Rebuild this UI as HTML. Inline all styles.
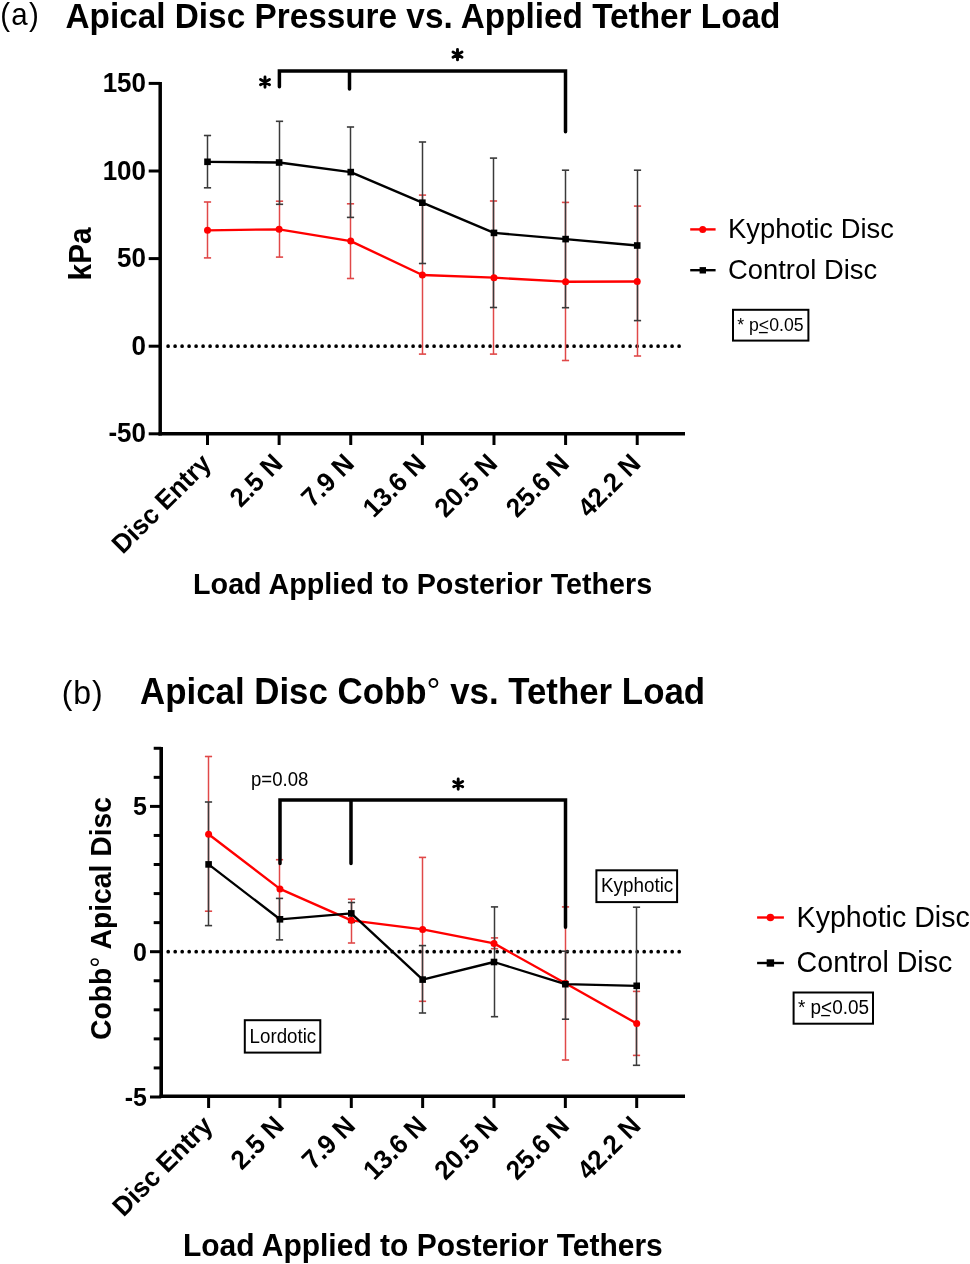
<!DOCTYPE html>
<html><head><meta charset="utf-8"><title>Apical Disc Pressure and Cobb Angle vs Tether Load</title>
<style>
html,body{margin:0;padding:0;background:#fff;}
body{width:970px;height:1264px;overflow:hidden;}
svg{display:block;will-change:transform;}
text{font-family:"Liberation Sans",sans-serif;fill:#000;}
.b{font-weight:bold;}
</style></head><body>
<svg width="970" height="1264" viewBox="0 0 970 1264">
<rect x="0" y="0" width="970" height="1264" fill="#fff"/>

<line x1="160.2" y1="81.9" x2="160.2" y2="435.55" stroke="#000" stroke-width="3.5"/>
<line x1="158.45" y1="433.8" x2="685" y2="433.8" stroke="#000" stroke-width="3.5"/>
<line x1="148.7" y1="83.4" x2="160.2" y2="83.4" stroke="#000" stroke-width="3"/>
<text class="b" font-size="26" text-anchor="end" transform="translate(146,92) scale(1,1.04)">150</text>
<line x1="148.7" y1="171" x2="160.2" y2="171" stroke="#000" stroke-width="3"/>
<text class="b" font-size="26" text-anchor="end" transform="translate(146,179.6) scale(1,1.04)">100</text>
<line x1="148.7" y1="258.6" x2="160.2" y2="258.6" stroke="#000" stroke-width="3"/>
<text class="b" font-size="26" text-anchor="end" transform="translate(146,267.2) scale(1,1.04)">50</text>
<line x1="148.7" y1="346.2" x2="160.2" y2="346.2" stroke="#000" stroke-width="3"/>
<text class="b" font-size="26" text-anchor="end" transform="translate(146,354.8) scale(1,1.04)">0</text>
<line x1="148.7" y1="433.8" x2="160.2" y2="433.8" stroke="#000" stroke-width="3"/>
<text class="b" font-size="26" text-anchor="end" transform="translate(146,442.4) scale(1,1.04)">-50</text>
<line x1="207.5" y1="433.8" x2="207.5" y2="445" stroke="#000" stroke-width="3"/>
<text class="b" font-size="25.7" text-anchor="end" transform="translate(212.5,465.2) rotate(-45) scale(1,1.04)">Disc Entry</text>
<line x1="279.12" y1="433.8" x2="279.12" y2="445" stroke="#000" stroke-width="3"/>
<text class="b" font-size="25.7" text-anchor="end" transform="translate(284.12,465.2) rotate(-45) scale(1,1.04)">2.5 N</text>
<line x1="350.74" y1="433.8" x2="350.74" y2="445" stroke="#000" stroke-width="3"/>
<text class="b" font-size="25.7" text-anchor="end" transform="translate(355.74,465.2) rotate(-45) scale(1,1.04)">7.9 N</text>
<line x1="422.36" y1="433.8" x2="422.36" y2="445" stroke="#000" stroke-width="3"/>
<text class="b" font-size="25.7" text-anchor="end" transform="translate(427.36,465.2) rotate(-45) scale(1,1.04)">13.6 N</text>
<line x1="493.98" y1="433.8" x2="493.98" y2="445" stroke="#000" stroke-width="3"/>
<text class="b" font-size="25.7" text-anchor="end" transform="translate(498.98,465.2) rotate(-45) scale(1,1.04)">20.5 N</text>
<line x1="565.6" y1="433.8" x2="565.6" y2="445" stroke="#000" stroke-width="3"/>
<text class="b" font-size="25.7" text-anchor="end" transform="translate(570.6,465.2) rotate(-45) scale(1,1.04)">25.6 N</text>
<line x1="637.22" y1="433.8" x2="637.22" y2="445" stroke="#000" stroke-width="3"/>
<text class="b" font-size="25.7" text-anchor="end" transform="translate(642.22,465.2) rotate(-45) scale(1,1.04)">42.2 N</text>
<line x1="168.1" y1="346.2" x2="681" y2="346.2" stroke="#000" stroke-width="3.7" stroke-linecap="round" stroke-dasharray="0 7"/>
<line x1="207.5" y1="202" x2="207.5" y2="257.9" stroke="#e04848" stroke-width="1.5"/>
<line x1="203.9" y1="202" x2="211.1" y2="202" stroke="#e04848" stroke-width="1.6"/>
<line x1="203.9" y1="257.9" x2="211.1" y2="257.9" stroke="#e04848" stroke-width="1.6"/>
<line x1="279.5" y1="201.2" x2="279.5" y2="257.1" stroke="#e04848" stroke-width="1.5"/>
<line x1="275.9" y1="201.2" x2="283.1" y2="201.2" stroke="#e04848" stroke-width="1.6"/>
<line x1="275.9" y1="257.1" x2="283.1" y2="257.1" stroke="#e04848" stroke-width="1.6"/>
<line x1="350.5" y1="203.8" x2="350.5" y2="278.5" stroke="#e04848" stroke-width="1.5"/>
<line x1="346.9" y1="203.8" x2="354.1" y2="203.8" stroke="#e04848" stroke-width="1.6"/>
<line x1="346.9" y1="278.5" x2="354.1" y2="278.5" stroke="#e04848" stroke-width="1.6"/>
<line x1="422.5" y1="195.1" x2="422.5" y2="354.1" stroke="#e04848" stroke-width="1.5"/>
<line x1="418.9" y1="195.1" x2="426.1" y2="195.1" stroke="#e04848" stroke-width="1.6"/>
<line x1="418.9" y1="354.1" x2="426.1" y2="354.1" stroke="#e04848" stroke-width="1.6"/>
<line x1="493.5" y1="201" x2="493.5" y2="354.1" stroke="#e04848" stroke-width="1.5"/>
<line x1="489.9" y1="201" x2="497.1" y2="201" stroke="#e04848" stroke-width="1.6"/>
<line x1="489.9" y1="354.1" x2="497.1" y2="354.1" stroke="#e04848" stroke-width="1.6"/>
<line x1="565.5" y1="202.4" x2="565.5" y2="360.5" stroke="#e04848" stroke-width="1.5"/>
<line x1="561.9" y1="202.4" x2="569.1" y2="202.4" stroke="#e04848" stroke-width="1.6"/>
<line x1="561.9" y1="360.5" x2="569.1" y2="360.5" stroke="#e04848" stroke-width="1.6"/>
<line x1="637.5" y1="206.1" x2="637.5" y2="356" stroke="#e04848" stroke-width="1.5"/>
<line x1="633.9" y1="206.1" x2="641.1" y2="206.1" stroke="#e04848" stroke-width="1.6"/>
<line x1="633.9" y1="356" x2="641.1" y2="356" stroke="#e04848" stroke-width="1.6"/>
<line x1="207.5" y1="135.5" x2="207.5" y2="187.8" stroke="#3a3a3a" stroke-width="1.5"/>
<line x1="203.9" y1="135.5" x2="211.1" y2="135.5" stroke="#3a3a3a" stroke-width="1.6"/>
<line x1="203.9" y1="187.8" x2="211.1" y2="187.8" stroke="#3a3a3a" stroke-width="1.6"/>
<line x1="279.5" y1="121.3" x2="279.5" y2="204.3" stroke="#3a3a3a" stroke-width="1.5"/>
<line x1="275.9" y1="121.3" x2="283.1" y2="121.3" stroke="#3a3a3a" stroke-width="1.6"/>
<line x1="275.9" y1="204.3" x2="283.1" y2="204.3" stroke="#3a3a3a" stroke-width="1.6"/>
<line x1="350.5" y1="127" x2="350.5" y2="217.4" stroke="#3a3a3a" stroke-width="1.5"/>
<line x1="346.9" y1="127" x2="354.1" y2="127" stroke="#3a3a3a" stroke-width="1.6"/>
<line x1="346.9" y1="217.4" x2="354.1" y2="217.4" stroke="#3a3a3a" stroke-width="1.6"/>
<line x1="422.5" y1="142" x2="422.5" y2="263.5" stroke="#3a3a3a" stroke-width="1.5"/>
<line x1="418.9" y1="142" x2="426.1" y2="142" stroke="#3a3a3a" stroke-width="1.6"/>
<line x1="418.9" y1="263.5" x2="426.1" y2="263.5" stroke="#3a3a3a" stroke-width="1.6"/>
<line x1="493.5" y1="158.1" x2="493.5" y2="307.5" stroke="#3a3a3a" stroke-width="1.5"/>
<line x1="489.9" y1="158.1" x2="497.1" y2="158.1" stroke="#3a3a3a" stroke-width="1.6"/>
<line x1="489.9" y1="307.5" x2="497.1" y2="307.5" stroke="#3a3a3a" stroke-width="1.6"/>
<line x1="565.5" y1="170.2" x2="565.5" y2="307.7" stroke="#3a3a3a" stroke-width="1.5"/>
<line x1="561.9" y1="170.2" x2="569.1" y2="170.2" stroke="#3a3a3a" stroke-width="1.6"/>
<line x1="561.9" y1="307.7" x2="569.1" y2="307.7" stroke="#3a3a3a" stroke-width="1.6"/>
<line x1="637.5" y1="170.2" x2="637.5" y2="320.6" stroke="#3a3a3a" stroke-width="1.5"/>
<line x1="633.9" y1="170.2" x2="641.1" y2="170.2" stroke="#3a3a3a" stroke-width="1.6"/>
<line x1="633.9" y1="320.6" x2="641.1" y2="320.6" stroke="#3a3a3a" stroke-width="1.6"/>
<polyline points="207.5,230.3 279.12,229.3 350.74,241.1 422.36,275 493.98,277.7 565.6,281.7 637.22,281.5" fill="none" stroke="#ff0000" stroke-width="2.35" stroke-linejoin="round"/>
<circle cx="207.5" cy="230.3" r="3.5" fill="#ff0000"/>
<circle cx="279.12" cy="229.3" r="3.5" fill="#ff0000"/>
<circle cx="350.74" cy="241.1" r="3.5" fill="#ff0000"/>
<circle cx="422.36" cy="275" r="3.5" fill="#ff0000"/>
<circle cx="493.98" cy="277.7" r="3.5" fill="#ff0000"/>
<circle cx="565.6" cy="281.7" r="3.5" fill="#ff0000"/>
<circle cx="637.22" cy="281.5" r="3.5" fill="#ff0000"/>
<polyline points="207.5,161.8 279.12,162.5 350.74,172.1 422.36,202.7 493.98,232.9 565.6,239.1 637.22,245.5" fill="none" stroke="#000" stroke-width="2.35" stroke-linejoin="round"/>
<rect x="204.2" y="158.5" width="6.6" height="6.6" fill="#000"/>
<rect x="275.82" y="159.2" width="6.6" height="6.6" fill="#000"/>
<rect x="347.44" y="168.8" width="6.6" height="6.6" fill="#000"/>
<rect x="419.06" y="199.4" width="6.6" height="6.6" fill="#000"/>
<rect x="490.68" y="229.6" width="6.6" height="6.6" fill="#000"/>
<rect x="562.3" y="235.8" width="6.6" height="6.6" fill="#000"/>
<rect x="633.92" y="242.2" width="6.6" height="6.6" fill="#000"/>
<line x1="161.2" y1="747.1" x2="161.2" y2="1098" stroke="#000" stroke-width="3.6"/>
<line x1="159.4" y1="1096.2" x2="685" y2="1096.2" stroke="#000" stroke-width="3.6"/>
<line x1="150" y1="806.4" x2="161.2" y2="806.4" stroke="#000" stroke-width="3"/>
<text class="b" font-size="25" text-anchor="end" transform="translate(147,815.4) scale(1,1.04)">5</text>
<line x1="150" y1="951.7" x2="161.2" y2="951.7" stroke="#000" stroke-width="3"/>
<text class="b" font-size="25" text-anchor="end" transform="translate(147,960.7) scale(1,1.04)">0</text>
<line x1="150" y1="1097" x2="161.2" y2="1097" stroke="#000" stroke-width="3"/>
<text class="b" font-size="25" text-anchor="end" transform="translate(147,1106) scale(1,1.04)">-5</text>
<line x1="153.7" y1="748.28" x2="161.2" y2="748.28" stroke="#000" stroke-width="3"/>
<line x1="153.7" y1="777.34" x2="161.2" y2="777.34" stroke="#000" stroke-width="3"/>
<line x1="153.7" y1="835.46" x2="161.2" y2="835.46" stroke="#000" stroke-width="3"/>
<line x1="153.7" y1="864.52" x2="161.2" y2="864.52" stroke="#000" stroke-width="3"/>
<line x1="153.7" y1="893.58" x2="161.2" y2="893.58" stroke="#000" stroke-width="3"/>
<line x1="153.7" y1="922.64" x2="161.2" y2="922.64" stroke="#000" stroke-width="3"/>
<line x1="153.7" y1="980.76" x2="161.2" y2="980.76" stroke="#000" stroke-width="3"/>
<line x1="153.7" y1="1009.82" x2="161.2" y2="1009.82" stroke="#000" stroke-width="3"/>
<line x1="153.7" y1="1038.88" x2="161.2" y2="1038.88" stroke="#000" stroke-width="3"/>
<line x1="153.7" y1="1067.94" x2="161.2" y2="1067.94" stroke="#000" stroke-width="3"/>
<line x1="208.6" y1="1096.2" x2="208.6" y2="1108" stroke="#000" stroke-width="3"/>
<text class="b" font-size="25.9" text-anchor="end" transform="translate(214.1,1127.3) rotate(-45) scale(1,1.04)">Disc Entry</text>
<line x1="279.95" y1="1096.2" x2="279.95" y2="1108" stroke="#000" stroke-width="3"/>
<text class="b" font-size="25.9" text-anchor="end" transform="translate(285.45,1127.3) rotate(-45) scale(1,1.04)">2.5 N</text>
<line x1="351.3" y1="1096.2" x2="351.3" y2="1108" stroke="#000" stroke-width="3"/>
<text class="b" font-size="25.9" text-anchor="end" transform="translate(356.8,1127.3) rotate(-45) scale(1,1.04)">7.9 N</text>
<line x1="422.65" y1="1096.2" x2="422.65" y2="1108" stroke="#000" stroke-width="3"/>
<text class="b" font-size="25.9" text-anchor="end" transform="translate(428.15,1127.3) rotate(-45) scale(1,1.04)">13.6 N</text>
<line x1="494" y1="1096.2" x2="494" y2="1108" stroke="#000" stroke-width="3"/>
<text class="b" font-size="25.9" text-anchor="end" transform="translate(499.5,1127.3) rotate(-45) scale(1,1.04)">20.5 N</text>
<line x1="565.35" y1="1096.2" x2="565.35" y2="1108" stroke="#000" stroke-width="3"/>
<text class="b" font-size="25.9" text-anchor="end" transform="translate(570.85,1127.3) rotate(-45) scale(1,1.04)">25.6 N</text>
<line x1="636.7" y1="1096.2" x2="636.7" y2="1108" stroke="#000" stroke-width="3"/>
<text class="b" font-size="25.9" text-anchor="end" transform="translate(642.2,1127.3) rotate(-45) scale(1,1.04)">42.2 N</text>
<line x1="168.2" y1="951.7" x2="681" y2="951.7" stroke="#000" stroke-width="3.7" stroke-linecap="round" stroke-dasharray="0 7"/>
<line x1="208.5" y1="756.5" x2="208.5" y2="911.2" stroke="#e04848" stroke-width="1.5"/>
<line x1="204.9" y1="756.5" x2="212.1" y2="756.5" stroke="#e04848" stroke-width="1.6"/>
<line x1="204.9" y1="911.2" x2="212.1" y2="911.2" stroke="#e04848" stroke-width="1.6"/>
<line x1="279.5" y1="859.7" x2="279.5" y2="918" stroke="#e04848" stroke-width="1.5"/>
<line x1="275.9" y1="859.7" x2="283.1" y2="859.7" stroke="#e04848" stroke-width="1.6"/>
<line x1="275.9" y1="918" x2="283.1" y2="918" stroke="#e04848" stroke-width="1.6"/>
<line x1="351.5" y1="899.2" x2="351.5" y2="943" stroke="#e04848" stroke-width="1.5"/>
<line x1="347.9" y1="899.2" x2="355.1" y2="899.2" stroke="#e04848" stroke-width="1.6"/>
<line x1="347.9" y1="943" x2="355.1" y2="943" stroke="#e04848" stroke-width="1.6"/>
<line x1="422.5" y1="857.4" x2="422.5" y2="1001.3" stroke="#e04848" stroke-width="1.5"/>
<line x1="418.9" y1="857.4" x2="426.1" y2="857.4" stroke="#e04848" stroke-width="1.6"/>
<line x1="418.9" y1="1001.3" x2="426.1" y2="1001.3" stroke="#e04848" stroke-width="1.6"/>
<line x1="494.5" y1="937.9" x2="494.5" y2="948.7" stroke="#e04848" stroke-width="1.5"/>
<line x1="490.9" y1="937.9" x2="498.1" y2="937.9" stroke="#e04848" stroke-width="1.6"/>
<line x1="490.9" y1="948.7" x2="498.1" y2="948.7" stroke="#e04848" stroke-width="1.6"/>
<line x1="565.5" y1="906.9" x2="565.5" y2="1060" stroke="#e04848" stroke-width="1.5"/>
<line x1="561.9" y1="906.9" x2="569.1" y2="906.9" stroke="#e04848" stroke-width="1.6"/>
<line x1="561.9" y1="1060" x2="569.1" y2="1060" stroke="#e04848" stroke-width="1.6"/>
<line x1="636.5" y1="991.4" x2="636.5" y2="1055.4" stroke="#e04848" stroke-width="1.5"/>
<line x1="632.9" y1="991.4" x2="640.1" y2="991.4" stroke="#e04848" stroke-width="1.6"/>
<line x1="632.9" y1="1055.4" x2="640.1" y2="1055.4" stroke="#e04848" stroke-width="1.6"/>
<line x1="208.5" y1="802" x2="208.5" y2="925.6" stroke="#3a3a3a" stroke-width="1.5"/>
<line x1="204.9" y1="802" x2="212.1" y2="802" stroke="#3a3a3a" stroke-width="1.6"/>
<line x1="204.9" y1="925.6" x2="212.1" y2="925.6" stroke="#3a3a3a" stroke-width="1.6"/>
<line x1="279.5" y1="898.4" x2="279.5" y2="939.9" stroke="#3a3a3a" stroke-width="1.5"/>
<line x1="275.9" y1="898.4" x2="283.1" y2="898.4" stroke="#3a3a3a" stroke-width="1.6"/>
<line x1="275.9" y1="939.9" x2="283.1" y2="939.9" stroke="#3a3a3a" stroke-width="1.6"/>
<line x1="351.5" y1="902.5" x2="351.5" y2="922.4" stroke="#3a3a3a" stroke-width="1.5"/>
<line x1="347.9" y1="902.5" x2="355.1" y2="902.5" stroke="#3a3a3a" stroke-width="1.6"/>
<line x1="347.9" y1="922.4" x2="355.1" y2="922.4" stroke="#3a3a3a" stroke-width="1.6"/>
<line x1="422.5" y1="945.6" x2="422.5" y2="1013" stroke="#3a3a3a" stroke-width="1.5"/>
<line x1="418.9" y1="945.6" x2="426.1" y2="945.6" stroke="#3a3a3a" stroke-width="1.6"/>
<line x1="418.9" y1="1013" x2="426.1" y2="1013" stroke="#3a3a3a" stroke-width="1.6"/>
<line x1="494.5" y1="906.9" x2="494.5" y2="1016.7" stroke="#3a3a3a" stroke-width="1.5"/>
<line x1="490.9" y1="906.9" x2="498.1" y2="906.9" stroke="#3a3a3a" stroke-width="1.6"/>
<line x1="490.9" y1="1016.7" x2="498.1" y2="1016.7" stroke="#3a3a3a" stroke-width="1.6"/>
<line x1="565.5" y1="951.2" x2="565.5" y2="1019.2" stroke="#3a3a3a" stroke-width="1.5"/>
<line x1="561.9" y1="951.2" x2="569.1" y2="951.2" stroke="#3a3a3a" stroke-width="1.6"/>
<line x1="561.9" y1="1019.2" x2="569.1" y2="1019.2" stroke="#3a3a3a" stroke-width="1.6"/>
<line x1="636.5" y1="907.2" x2="636.5" y2="1065.3" stroke="#3a3a3a" stroke-width="1.5"/>
<line x1="632.9" y1="907.2" x2="640.1" y2="907.2" stroke="#3a3a3a" stroke-width="1.6"/>
<line x1="632.9" y1="1065.3" x2="640.1" y2="1065.3" stroke="#3a3a3a" stroke-width="1.6"/>
<polyline points="208.6,834.2 279.95,888.9 351.3,920.3 422.65,929.4 494,943.4 565.35,983.3 636.7,1023.5" fill="none" stroke="#ff0000" stroke-width="2.35" stroke-linejoin="round"/>
<circle cx="208.6" cy="834.2" r="3.5" fill="#ff0000"/>
<circle cx="279.95" cy="888.9" r="3.5" fill="#ff0000"/>
<circle cx="351.3" cy="920.3" r="3.5" fill="#ff0000"/>
<circle cx="422.65" cy="929.4" r="3.5" fill="#ff0000"/>
<circle cx="494" cy="943.4" r="3.5" fill="#ff0000"/>
<circle cx="565.35" cy="983.3" r="3.5" fill="#ff0000"/>
<circle cx="636.7" cy="1023.5" r="3.5" fill="#ff0000"/>
<polyline points="208.6,864.4 279.95,919.3 351.3,913.4 422.65,979.6 494,962 565.35,984.2 636.7,985.8" fill="none" stroke="#000" stroke-width="2.35" stroke-linejoin="round"/>
<rect x="205.3" y="861.1" width="6.6" height="6.6" fill="#000"/>
<rect x="276.65" y="916" width="6.6" height="6.6" fill="#000"/>
<rect x="348" y="910.1" width="6.6" height="6.6" fill="#000"/>
<rect x="419.35" y="976.3" width="6.6" height="6.6" fill="#000"/>
<rect x="490.7" y="958.7" width="6.6" height="6.6" fill="#000"/>
<rect x="562.05" y="980.9" width="6.6" height="6.6" fill="#000"/>
<rect x="633.4" y="982.5" width="6.6" height="6.6" fill="#000"/>

<!-- Panel (a) title -->
<text font-size="29.5" letter-spacing="1.2" transform="translate(0.3,25.4) scale(1,1.04)">(a)</text>
<text class="b" font-size="33.33" transform="translate(65.5,27.7) scale(1,1.04)">Apical Disc Pressure vs. Applied Tether Load</text>
<!-- y label kPa -->
<text class="b" font-size="29.8" text-anchor="middle" transform="translate(90.6,253.9) rotate(-90) scale(1,1.04)">kPa</text>
<!-- x title -->
<text class="b" font-size="28.7" transform="translate(193.1,593.6) scale(1,1.04)">Load Applied to Posterior Tethers</text>
<!-- significance bracket a -->
<path d="M279.4 86.7 V70.9 H565.5 V131.8 M349.5 70.9 V89.1" fill="none" stroke="#000" stroke-width="3.5" stroke-linecap="round" stroke-linejoin="miter"/>
<path d="M265.00 76.90L265.00 87.30M260.50 79.50L269.50 84.70M269.50 79.50L260.50 84.70" stroke="#000" stroke-width="2.9" stroke-linecap="round" fill="none"/>
<path d="M457.50 49.50L457.50 59.90M453.00 52.10L462.00 57.30M462.00 52.10L453.00 57.30" stroke="#000" stroke-width="2.9" stroke-linecap="round" fill="none"/>
<!-- legend a -->
<line x1="690.2" y1="229.4" x2="715.6" y2="229.4" stroke="#ff0000" stroke-width="2.4"/>
<circle cx="702.7" cy="229.4" r="3.5" fill="#ff0000"/>
<text font-size="27.4" transform="translate(728,237.8) scale(1,1.04)">Kyphotic Disc</text>
<line x1="690.2" y1="270.2" x2="715.6" y2="270.2" stroke="#000" stroke-width="2.4"/>
<rect x="699.6" y="267.1" width="6.4" height="6.4" fill="#000"/>
<text font-size="27.4" transform="translate(728,278.5) scale(1,1.04)">Control Disc</text>
<rect x="733" y="309.8" width="75.4" height="30.8" fill="none" stroke="#000" stroke-width="2"/>
<text font-size="17.7" transform="translate(737.2,331.1) scale(1,1.04)">* p&lt;0.05</text>
<line x1="758.9" y1="332.6" x2="767.7" y2="332.6" stroke="#000" stroke-width="1.3"/>

<!-- Panel (b) title -->
<text font-size="32" letter-spacing="0.9" transform="translate(61.8,703.9) scale(1,1.04)">(b)</text>
<text class="b" font-size="34.85" transform="translate(140,704) scale(1,1.04)">Apical Disc Cobb<tspan font-weight="normal">°</tspan> vs. Tether Load</text>
<!-- y label -->
<text class="b" font-size="28.3" text-anchor="middle" transform="translate(110.6,918.5) rotate(-90) scale(1,1.04)">Cobb<tspan font-weight="normal">°</tspan> Apical Disc</text>
<!-- x title -->
<text class="b" font-size="30" transform="translate(182.9,1255.8) scale(1,1.04)">Load Applied to Posterior Tethers</text>
<!-- bracket b -->
<path d="M280 863.6 V800 H565.5 V927.2 M351 800 V863.6" fill="none" stroke="#000" stroke-width="3.5" stroke-linecap="round" stroke-linejoin="miter"/>
<path d="M458.20 778.90L458.20 789.30M453.70 781.50L462.70 786.70M462.70 781.50L453.70 786.70" stroke="#000" stroke-width="2.9" stroke-linecap="round" fill="none"/>
<text font-size="18.6" transform="translate(251,786.1) scale(1,1.04)">p=0.08</text>
<!-- annotation boxes -->
<rect x="596.4" y="870.3" width="80.7" height="31.8" fill="none" stroke="#000" stroke-width="2"/>
<text font-size="18.85" transform="translate(601,892) scale(1,1.04)">Kyphotic</text>
<rect x="244.8" y="1020.2" width="75.5" height="32.4" fill="none" stroke="#000" stroke-width="2"/>
<text font-size="18.75" transform="translate(249.6,1042.6) scale(1,1.04)">Lordotic</text>
<!-- legend b -->
<line x1="757.1" y1="917.5" x2="783.9" y2="917.5" stroke="#ff0000" stroke-width="2.4"/>
<circle cx="770.4" cy="917.5" r="3.8" fill="#ff0000"/>
<text font-size="28.6" transform="translate(796.6,926.8) scale(1,1.04)">Kyphotic Disc</text>
<line x1="757.1" y1="963" x2="783.9" y2="963" stroke="#000" stroke-width="2.4"/>
<rect x="766.7" y="959.3" width="7.4" height="7.4" fill="#000"/>
<text font-size="28.6" transform="translate(796.6,971.5) scale(1,1.04)">Control Disc</text>
<rect x="793.6" y="992.5" width="79.4" height="31.2" fill="none" stroke="#000" stroke-width="2"/>
<text font-size="18.95" transform="translate(797.9,1014.3) scale(1,1.04)">* p&lt;0.05</text>
<line x1="821.1" y1="1015.6" x2="829.9" y2="1015.6" stroke="#000" stroke-width="1.3"/>

</svg>
</body></html>
